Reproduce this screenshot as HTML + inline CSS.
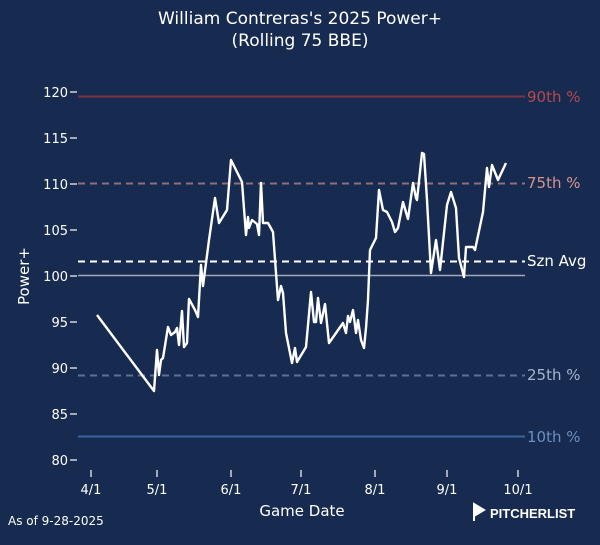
<!DOCTYPE html>
<html><head><meta charset="utf-8"><style>
html,body{margin:0;padding:0;background:#172b50;}
svg{display:block;font-family:"DejaVu Sans","Liberation Sans",sans-serif;}
</style></head><body>
<svg width="600" height="545" viewBox="0 0 600 545" xmlns="http://www.w3.org/2000/svg">
<rect width="600" height="545" fill="#172b50"/>
<text x="300" y="24" fill="#fff" font-size="17" text-anchor="middle">William Contreras's 2025 Power+</text>
<text x="300" y="46" fill="#fff" font-size="17" text-anchor="middle">(Rolling 75 BBE)</text>
<g fill="#fff" font-size="13" text-anchor="end">
<text x="68" y="97">120</text><text x="68" y="143">115</text><text x="68" y="189">110</text><text x="68" y="235">105</text><text x="68" y="281">100</text><text x="68" y="327">95</text><text x="68" y="373">90</text><text x="68" y="419">85</text><text x="68" y="465">80</text>
</g>
<g stroke="#fff" stroke-width="1.2">
<line x1="70" y1="92" x2="77" y2="92"/><line x1="70" y1="138" x2="77" y2="138"/><line x1="70" y1="184" x2="77" y2="184"/><line x1="70" y1="230" x2="77" y2="230"/><line x1="70" y1="276" x2="77" y2="276"/><line x1="70" y1="322" x2="77" y2="322"/><line x1="70" y1="368" x2="77" y2="368"/><line x1="70" y1="414" x2="77" y2="414"/><line x1="70" y1="460" x2="77" y2="460"/>
<line x1="91" y1="470" x2="91" y2="477"/><line x1="157" y1="470" x2="157" y2="477"/><line x1="231" y1="470" x2="231" y2="477"/><line x1="301" y1="470" x2="301" y2="477"/><line x1="375" y1="470" x2="375" y2="477"/><line x1="447" y1="470" x2="447" y2="477"/><line x1="518" y1="470" x2="518" y2="477"/>
</g>
<g fill="#fff" font-size="13" text-anchor="middle">
<text x="91" y="494">4/1</text><text x="157" y="494">5/1</text><text x="231" y="494">6/1</text><text x="301" y="494">7/1</text><text x="375" y="494">8/1</text><text x="447" y="494">9/1</text><text x="518" y="494">10/1</text>
</g>
<text x="302" y="516" fill="#fff" font-size="15" text-anchor="middle">Game Date</text>
<text x="29" y="276" fill="#fff" font-size="15" text-anchor="middle" transform="rotate(-90 29 276)">Power+</text>
<line x1="78" y1="96.5" x2="525" y2="96.5" stroke="#7e3040" stroke-width="2"/>
<line x1="78" y1="183.5" x2="525" y2="183.5" stroke="#8e6f7a" stroke-width="2" stroke-dasharray="7,5"/>
<line x1="78" y1="261.5" x2="525" y2="261.5" stroke="#fff" stroke-width="2" stroke-dasharray="7,5"/>
<line x1="78" y1="275.5" x2="525" y2="275.5" stroke="#a0a8b8" stroke-width="1.6"/>
<line x1="78" y1="375.5" x2="525" y2="375.5" stroke="#5d7198" stroke-width="2" stroke-dasharray="7,5"/>
<line x1="78" y1="436.5" x2="525" y2="436.5" stroke="#3a64a0" stroke-width="2"/>
<g font-size="15">
<text x="527" y="102" fill="#b8474f">90th %</text>
<text x="527" y="188" fill="#d6958e">75th %</text>
<text x="527" y="266" fill="#fff">Szn Avg</text>
<text x="527" y="380" fill="#a6b4cf">25th %</text>
<text x="527" y="442" fill="#6a8fc0">10th %</text>
</g>
<polyline fill="none" stroke="#fff" stroke-width="2.4" stroke-linejoin="round" points="97,315 154,391 157,350 159,375 161,360 163,358 168,327 171,335 175,332 177,328 179,345 182,311 184,347 187,343 189,299 195,310 198,317 201,265 203,286 209,240 215,198 219,223 227,210 231,160 235,168 242,182 246,235 248,217 249,228 252,220 257,224 259,235 261,183 263,223 268,223 273,232 278,300 281,286 283,293 286,333 292,363 295,348 297,362 306,347 311,292 314,322 316,322 318,298 321,323 325,304 329,343 343,323 346,333 348,316 350,322 353,310 356,333 358,320 361,340 364,348 366,328 368,300 370,250 376,238 379,190 383,210 387,212 392,222 395,232 398,228 403,202 408,219 413,183 416,198 417,200 422,153 424,154 427,200 431,273 436,240 440,270 447,205 451,192 456,208 459,258 464,277 466,247 473,247 475,250 483,212 487,168 489,187 492,165 498,180 506,163"/>
<text x="8" y="525" fill="#fff" font-size="12">As of 9-28-2025</text>
<path d="M474 504 L484 510 L474 516 Z M474 514 L474 521" fill="#fff" stroke="#fff" stroke-width="2"/>
<text x="490" y="518" fill="#fff" font-size="13" font-weight="bold" font-family="Liberation Sans,sans-serif">PITCHERLIST</text>
</svg>
</body></html>
